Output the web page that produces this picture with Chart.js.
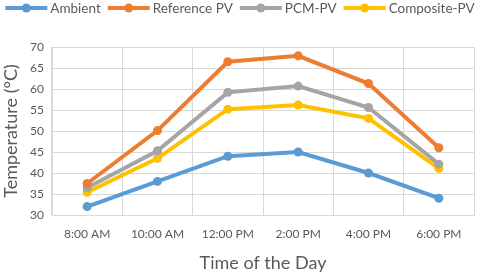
<!DOCTYPE html>
<html>
<head>
<meta charset="utf-8">
<script src="https://cdn.jsdelivr.net/npm/chart.js@4/dist/chart.umd.min.js"></script>
<style>
html,body{margin:0;padding:0;background:#fff;}
#wrap{width:480px;height:274px;position:relative;}
</style>
</head>
<body>
<div id="wrap"><canvas id="chart" width="480" height="274"></canvas></div>
<script>
const times = ["8:00 AM","10:00 AM","12:00 PM","2:00 PM","4:00 PM","6:00 PM"];
const ambient = [32, 38, 44, 45, 40, 34];
const referencePV = [37.5, 50.1, 66.5, 67.9, 61.3, 46];
const pcmPV = [36.5, 45.3, 59.2, 60.7, 55.6, 42.1];
const compositePV = [35.4, 43.5, 55.2, 56.2, 53, 41.1];

const FONT = "Lato, 'Liberation Sans', sans-serif";
const TEXT = "#595959";
const GRID = "#d9d9d9";

function series(label, data, color){
    return {
        label:label,
        data:data,
        borderColor:color,
        backgroundColor:color,
        borderWidth:4,
        pointRadius:4.5,
        pointHoverRadius:4.5,
        pointBorderWidth:0,
        tension:0
    };
}

// Excel style legend: a line sample with a dot, then the label, in one row
const topLegend = {
    id:"topLegend",
    afterDraw(chart){
        const ctx = chart.ctx;
        const sets = chart.data.datasets;
        const lineW = 42, gapText = 3, gapItem = 7;
        let size = 14.5;
        let widths, total;
        do{
            ctx.font = size + "px " + FONT;
            widths = sets.map(d => ctx.measureText(d.label).width);
            total = widths.reduce((a,b) => a+b, 0) + sets.length*(lineW+gapText) + (sets.length-1)*gapItem;
            size -= 0.25;
        }while(total > 472 && size > 9);
        let x = (chart.width - total)/2;
        const y = 8;
        ctx.save();
        ctx.textBaseline = "middle";
        sets.forEach((d, i) => {
            ctx.strokeStyle = d.borderColor;
            ctx.lineWidth = 4;
            ctx.beginPath();
            ctx.moveTo(x, y);
            ctx.lineTo(x+lineW, y);
            ctx.stroke();
            ctx.fillStyle = d.borderColor;
            ctx.beginPath();
            ctx.arc(x+lineW/2, y, 4.5, 0, Math.PI*2);
            ctx.fill();
            x += lineW + gapText;
            ctx.fillStyle = TEXT;
            ctx.fillText(d.label, x, y+1);
            x += widths[i] + gapItem;
        });
        ctx.restore();
    }
};

new Chart(document.getElementById("chart"), {
    type:"line",
    data:{
        labels:times,
        datasets:[
            series("Ambient", ambient, "#5b9bd5"),
            series("Reference PV", referencePV, "#ed7d31"),
            series("PCM-PV", pcmPV, "#a5a5a5"),
            series("Composite-PV", compositePV, "#ffc000")
        ]
    },
    options:{
        responsive:false,
        animation:false,
        layout:{padding:{left:0,right:6,top:47,bottom:0}},
        plugins:{
            tooltip:{enabled:false},
            legend:{display:false}
        },
        scales:{
            x:{
                offset:true,
                grid:{offset:true,color:GRID,lineWidth:1,drawTicks:false},
                border:{color:GRID},
                ticks:{color:TEXT,font:{family:FONT,size:12},padding:12,maxRotation:0},
                title:{display:true,text:"Time of the Day",color:TEXT,font:{family:FONT,size:18},padding:{top:4,bottom:0}},
                afterFit(scale){ scale.height = 59; }
            },
            y:{
                min:30,
                max:70,
                ticks:{stepSize:5,color:TEXT,font:{family:FONT,size:12},padding:8},
                grid:{color:GRID,lineWidth:1,drawTicks:false},
                border:{color:GRID},
                title:{display:true,text:"Temperature (°C)",color:TEXT,font:{family:FONT,size:18},padding:{top:0,bottom:4}},
                afterFit(scale){ scale.width = 52; }
            }
        }
    },
    plugins:[topLegend]
});
</script>
</body>
</html>
